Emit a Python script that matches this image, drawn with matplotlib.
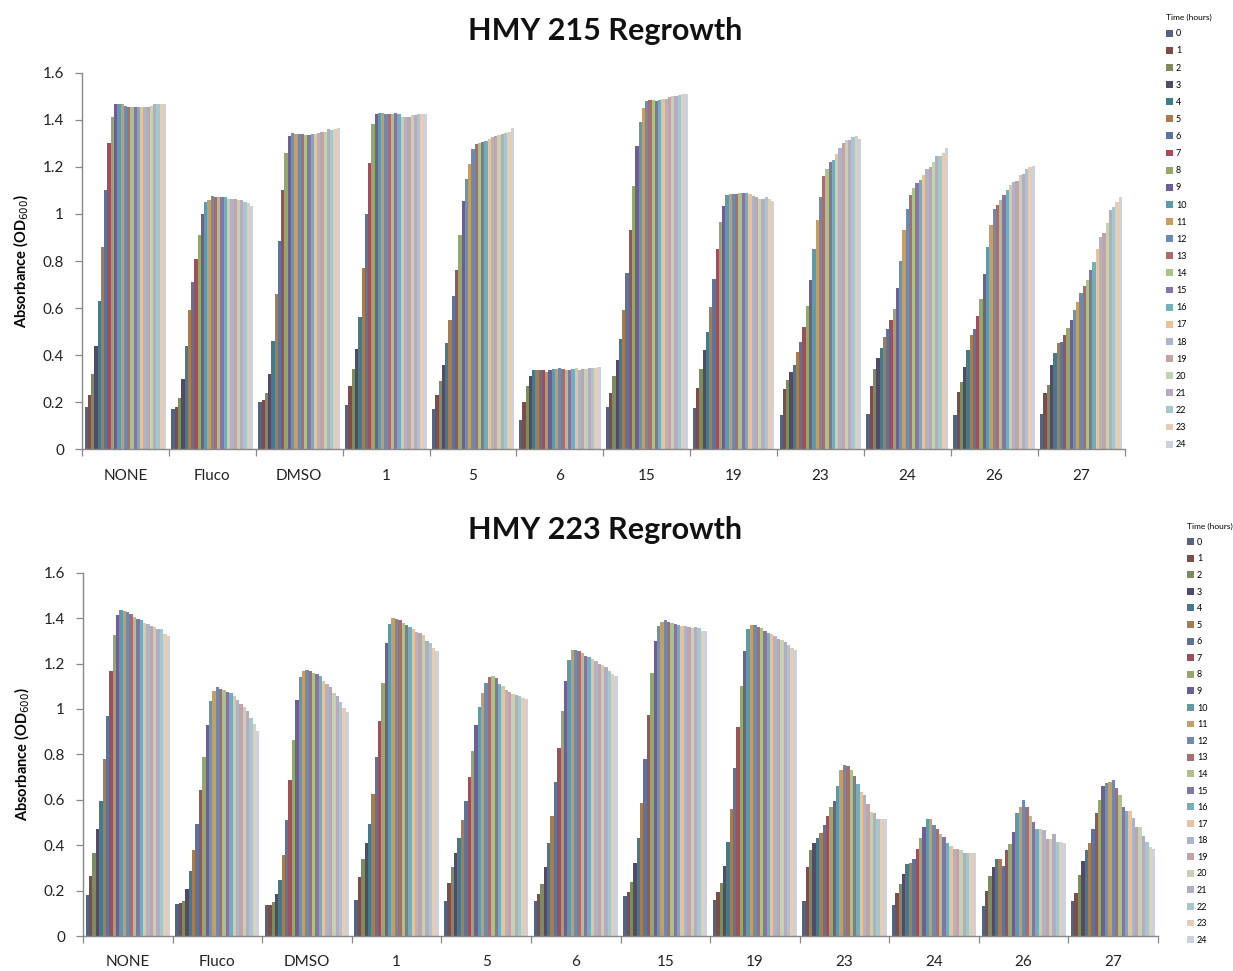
import matplotlib
matplotlib.use("Agg")
import matplotlib.pyplot as plt
from matplotlib.patches import Patch
from matplotlib.ticker import FuncFormatter, MultipleLocator, FixedLocator
import numpy as np

plt.rcParams['font.family'] = ['Lato', 'DejaVu Sans']

categories = ["NONE", "Fluco", "DMSO", "1", "5", "6", "15", "19", "23", "24", "26", "27"]
hours = [str(h) for h in range(25)]

# HMY 215 absorbance readings (OD600), one list per treatment, hours 0..24
hmy215_none = [0.18, 0.23, 0.32, 0.44, 0.63, 0.86, 1.10, 1.30, 1.41, 1.465, 1.465, 1.465, 1.46, 1.455, 1.455,
               1.455, 1.455, 1.455, 1.455, 1.455, 1.46, 1.465, 1.465, 1.465, 1.465]
hmy215_fluco = [0.17, 0.18, 0.22, 0.30, 0.44, 0.59, 0.71, 0.81, 0.91, 1.00, 1.05, 1.06, 1.075, 1.07, 1.07,
                1.07, 1.07, 1.065, 1.065, 1.065, 1.06, 1.06, 1.05, 1.045, 1.035]
hmy215_dmso = [0.20, 0.21, 0.24, 0.32, 0.46, 0.66, 0.885, 1.10, 1.26, 1.33, 1.345, 1.34, 1.34, 1.34, 1.335,
               1.335, 1.34, 1.34, 1.345, 1.35, 1.35, 1.36, 1.355, 1.36, 1.365]
hmy215_c1 = [0.19, 0.27, 0.34, 0.425, 0.56, 0.77, 1.00, 1.215, 1.38, 1.425, 1.43, 1.43, 1.425, 1.425, 1.425,
             1.43, 1.425, 1.41, 1.41, 1.41, 1.42, 1.42, 1.425, 1.425, 1.425]
hmy215_c5 = [0.17, 0.23, 0.29, 0.36, 0.45, 0.55, 0.65, 0.76, 0.91, 1.055, 1.15, 1.21, 1.275, 1.295, 1.30,
             1.305, 1.31, 1.32, 1.325, 1.33, 1.335, 1.34, 1.345, 1.35, 1.365]
hmy215_c6 = [0.125, 0.20, 0.27, 0.31, 0.335, 0.335, 0.335, 0.335, 0.33, 0.335, 0.34, 0.34, 0.345, 0.34, 0.335,
             0.335, 0.34, 0.345, 0.335, 0.34, 0.34, 0.345, 0.345, 0.345, 0.348]
hmy215_c15 = [0.18, 0.24, 0.31, 0.38, 0.47, 0.59, 0.75, 0.93, 1.12, 1.29, 1.39, 1.45, 1.48, 1.485, 1.485,
              1.48, 1.485, 1.49, 1.49, 1.495, 1.50, 1.50, 1.505, 1.51, 1.51]
hmy215_c19 = [0.175, 0.26, 0.34, 0.42, 0.50, 0.605, 0.725, 0.85, 0.965, 1.035, 1.08, 1.085, 1.085, 1.085, 1.09,
              1.09, 1.09, 1.085, 1.075, 1.07, 1.065, 1.065, 1.07, 1.065, 1.055]
hmy215_c23 = [0.145, 0.255, 0.295, 0.33, 0.36, 0.415, 0.455, 0.52, 0.61, 0.72, 0.85, 0.975, 1.07, 1.16, 1.19,
              1.22, 1.23, 1.255, 1.28, 1.30, 1.315, 1.315, 1.325, 1.33, 1.32]
hmy215_c24 = [0.15, 0.27, 0.34, 0.39, 0.43, 0.475, 0.51, 0.55, 0.595, 0.685, 0.80, 0.93, 1.02, 1.08, 1.11,
              1.13, 1.145, 1.165, 1.19, 1.20, 1.22, 1.245, 1.245, 1.26, 1.28]
hmy215_c26 = [0.145, 0.245, 0.285, 0.35, 0.42, 0.485, 0.51, 0.565, 0.64, 0.745, 0.86, 0.955, 1.02, 1.04, 1.06,
              1.08, 1.10, 1.125, 1.135, 1.14, 1.165, 1.17, 1.19, 1.20, 1.205]
hmy215_c27 = [0.15, 0.24, 0.275, 0.36, 0.41, 0.45, 0.455, 0.485, 0.515, 0.55, 0.59, 0.625, 0.665, 0.695, 0.72,
              0.76, 0.795, 0.85, 0.90, 0.92, 0.96, 1.015, 1.03, 1.05, 1.07]

# HMY 223 absorbance readings (OD600)
hmy223_none = [0.18, 0.265, 0.365, 0.47, 0.595, 0.78, 0.97, 1.165, 1.325, 1.415, 1.435, 1.43, 1.425, 1.42, 1.405,
               1.395, 1.39, 1.38, 1.375, 1.365, 1.36, 1.35, 1.35, 1.33, 1.32]
hmy223_fluco = [0.14, 0.145, 0.155, 0.205, 0.285, 0.38, 0.495, 0.645, 0.79, 0.93, 1.035, 1.08, 1.095, 1.09, 1.085,
                1.075, 1.07, 1.055, 1.04, 1.02, 1.01, 0.99, 0.96, 0.935, 0.905]
hmy223_dmso = [0.135, 0.135, 0.15, 0.185, 0.245, 0.355, 0.51, 0.685, 0.865, 1.04, 1.14, 1.165, 1.17, 1.165, 1.16,
               1.155, 1.145, 1.125, 1.11, 1.095, 1.07, 1.055, 1.03, 1.005, 0.985]
hmy223_c1 = [0.16, 0.26, 0.34, 0.41, 0.495, 0.625, 0.79, 0.945, 1.115, 1.29, 1.375, 1.40, 1.395, 1.39, 1.38,
             1.37, 1.36, 1.35, 1.34, 1.335, 1.325, 1.30, 1.29, 1.27, 1.255]
hmy223_c5 = [0.155, 0.235, 0.305, 0.365, 0.43, 0.51, 0.595, 0.70, 0.815, 0.93, 1.01, 1.07, 1.115, 1.14, 1.145,
             1.135, 1.11, 1.10, 1.085, 1.075, 1.065, 1.06, 1.055, 1.05, 1.045]
hmy223_c6 = [0.155, 0.185, 0.23, 0.305, 0.41, 0.53, 0.68, 0.83, 0.99, 1.125, 1.215, 1.26, 1.26, 1.255, 1.245,
             1.235, 1.23, 1.22, 1.21, 1.20, 1.195, 1.185, 1.165, 1.155, 1.145]
hmy223_c15 = [0.175, 0.195, 0.24, 0.32, 0.43, 0.585, 0.78, 0.975, 1.16, 1.30, 1.365, 1.385, 1.39, 1.385, 1.38,
              1.375, 1.37, 1.365, 1.365, 1.36, 1.355, 1.36, 1.355, 1.345, 1.345]
hmy223_c19 = [0.16, 0.195, 0.235, 0.31, 0.415, 0.56, 0.74, 0.92, 1.10, 1.255, 1.35, 1.37, 1.37, 1.36, 1.355,
              1.345, 1.335, 1.33, 1.32, 1.31, 1.305, 1.295, 1.28, 1.27, 1.26]
hmy223_c23 = [0.155, 0.305, 0.38, 0.41, 0.43, 0.455, 0.49, 0.53, 0.57, 0.595, 0.66, 0.73, 0.755, 0.75, 0.73,
              0.705, 0.67, 0.635, 0.62, 0.58, 0.545, 0.54, 0.515, 0.515, 0.515]
hmy223_c24 = [0.135, 0.19, 0.23, 0.275, 0.315, 0.32, 0.34, 0.385, 0.43, 0.48, 0.515, 0.515, 0.49, 0.47, 0.45,
              0.435, 0.41, 0.395, 0.385, 0.385, 0.38, 0.365, 0.365, 0.365, 0.365]
hmy223_c26 = [0.13, 0.20, 0.265, 0.305, 0.34, 0.34, 0.31, 0.38, 0.405, 0.46, 0.54, 0.57, 0.60, 0.57, 0.53,
              0.50, 0.47, 0.47, 0.465, 0.425, 0.425, 0.45, 0.415, 0.415, 0.41]
hmy223_c27 = [0.155, 0.19, 0.27, 0.33, 0.38, 0.41, 0.47, 0.54, 0.60, 0.66, 0.675, 0.68, 0.685, 0.65, 0.62,
              0.57, 0.55, 0.55, 0.52, 0.48, 0.48, 0.44, 0.415, 0.39, 0.385]

hmy215 = [hmy215_none, hmy215_fluco, hmy215_dmso, hmy215_c1, hmy215_c5, hmy215_c6,
          hmy215_c15, hmy215_c19, hmy215_c23, hmy215_c24, hmy215_c26, hmy215_c27]
hmy223 = [hmy223_none, hmy223_fluco, hmy223_dmso, hmy223_c1, hmy223_c5, hmy223_c6,
          hmy223_c15, hmy223_c19, hmy223_c23, hmy223_c24, hmy223_c26, hmy223_c27]

# one colour per hour: six hue families, getting lighter as time goes on
hour_colors = ["#536381", "#7C4E47", "#7D8B60", "#514A68", "#437B89", "#A87C50",
               "#5E739A", "#A04F59", "#93A96B", "#6D5E95", "#5F9AA8", "#C79D66",
               "#6E8AB0", "#A86D6D", "#ABC186", "#8375A8", "#70B0B8", "#E8C29C",
               "#ACB3CA", "#C2A4A4", "#C3D1B4", "#B3ACC2", "#A5C9CA", "#E8CBB4", "#CBD2DD"]

fig = plt.figure(figsize=(12.33, 9.71), dpi=100)
fig.patch.set_facecolor("white")

axis_gray = "#888888"
group_fill = 0.94
bar_w = group_fill / len(hours)


def draw_panel(ax, data, title, title_y):
    n_groups = len(categories)
    base = np.arange(n_groups)
    values = np.array(data)
    for h in range(len(hours)):
        x = base - group_fill / 2 + (h + 0.5) * bar_w
        ax.bar(x, values[:, h], width=bar_w, color=hour_colors[h], linewidth=0, label=hours[h])
    ax.set_xlim(-0.5, n_groups - 0.5)
    ax.set_ylim(0, 1.6)
    ax.yaxis.set_major_locator(MultipleLocator(0.2))
    ax.yaxis.set_major_formatter(FuncFormatter(lambda v, p: "%g" % round(v, 2)))
    ax.set_xticks(base)
    ax.set_xticklabels(categories)
    ax.xaxis.set_minor_locator(FixedLocator(np.arange(n_groups + 1) - 0.5))
    ax.tick_params(axis="x", which="major", length=0, pad=14, labelsize=11, colors="#222222")
    ax.tick_params(axis="x", which="minor", length=5, width=0.9, color=axis_gray, direction="out")
    ax.tick_params(axis="y", length=5, width=0.9, color=axis_gray, labelsize=11, labelcolor="#222222", pad=8)
    for side in ("top", "right"):
        ax.spines[side].set_visible(False)
    for side in ("left", "bottom"):
        ax.spines[side].set_color(axis_gray)
        ax.spines[side].set_linewidth(1.0)
    ax.set_ylabel("Absorbance (OD$_{600}$)", fontsize=10.5, fontweight="bold", labelpad=8)
    fig.text(0.491, title_y, title, ha="center", va="center", fontsize=22, fontweight="bold", color="#111111")


ax_top = fig.add_axes([82 / 1233, 1 - 449.3 / 971, (1124.5 - 82) / 1233, (449.3 - 72.7) / 971])
ax_bot = fig.add_axes([83 / 1233, 1 - 936 / 971, (1158 - 83) / 1233, (936 - 572.7) / 971])

draw_panel(ax_top, hmy215, "HMY 215 Regrowth", 1 - 31 / 971)
draw_panel(ax_bot, hmy223, "HMY 223 Regrowth", 1 - 530 / 971)

for anchor, spacing in (((1166 / 1233, 1 - 14 / 971), 0.90), ((1187 / 1233, 1 - 523 / 971), 0.84)):
    handles = [Patch(facecolor=hour_colors[h], edgecolor="none", label=hours[h]) for h in range(len(hours))]
    leg = fig.legend(handles=handles, loc="upper left", bbox_to_anchor=anchor, frameon=False,
                     title="Time (hours)", fontsize=6.5, title_fontsize=6.0,
                     handlelength=0.8, handleheight=0.8, handletextpad=0.3,
                     labelspacing=spacing, borderpad=0, borderaxespad=0)
    leg._legend_box.align = "left"

fig.savefig("out.png", dpi=100, facecolor="white")
